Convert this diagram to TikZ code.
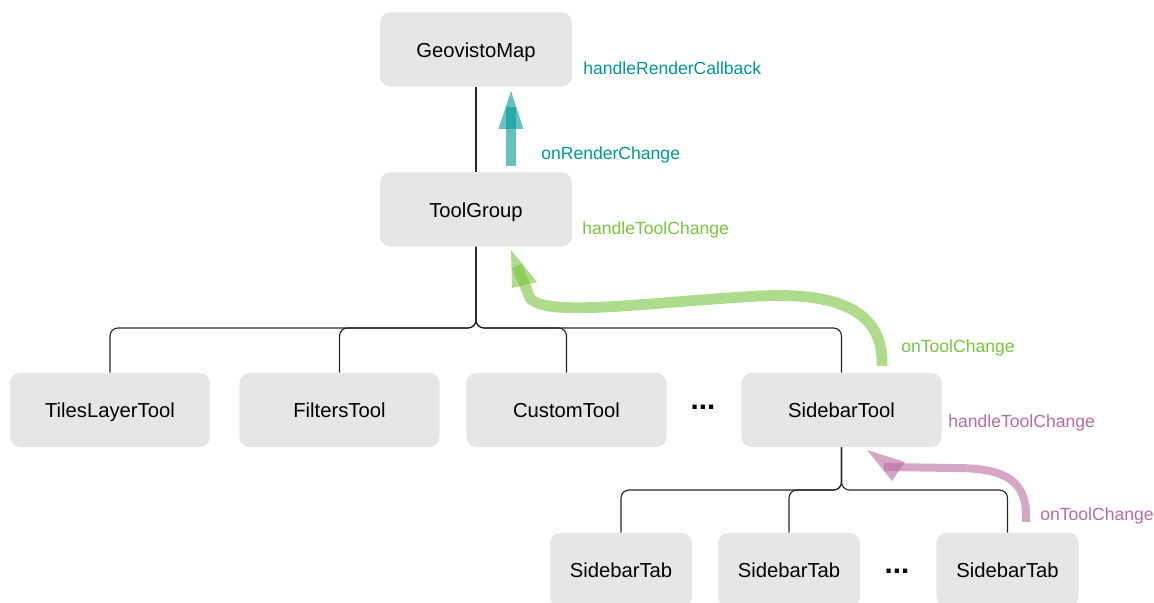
\documentclass[tikz,border=0pt]{standalone}
\usepackage{fontspec}
\setmainfont{Liberation Sans}
\definecolor{boxgray}{HTML}{E6E6E6}
\definecolor{rendercol}{RGB}{0,153,148}
\definecolor{toolcol}{RGB}{120,197,63}
\definecolor{tabcol}{RGB}{185,107,160}
\begin{document}
\begin{tikzpicture}[x=0.025cm,y=-0.025cm,
        comp/.style={fill=boxgray,rounded corners=0.25cm,inner sep=0pt,minimum height=1.85cm,
            text height=1.12em,text depth=0.04em,font=\fontsize{14.4}{17}\selectfont},
        toolbox/.style={comp,minimum width=5cm},
        tabbox/.style={comp,minimum width=3.55cm},
        tree/.style={draw=black!85,line width=0.8pt,rounded corners=0.2cm},
        flow/.style={opacity=0.6},
        lbl/.style={anchor=west,inner sep=0pt,text height=1em,text depth=0.02em,font=\fontsize{12.5}{15}\selectfont},
        dots/.style={anchor=base,inner sep=0pt,font=\fontsize{21}{24}\selectfont\bfseries}]
        \useasboundingbox (0,0) rectangle (1154,603);
        % boxes
        \node[comp,minimum width=4.8cm] (map) at (476,49.5) {GeovistoMap};
        \node[comp,minimum width=4.8cm] (group) at (476,209.5) {ToolGroup};
        \node[toolbox] (tiles) at (110,410) {TilesLayerTool};
        \node[toolbox] (filters) at (339.5,410) {FiltersTool};
        \node[toolbox] (custom) at (566.5,410) {CustomTool};
        \node[toolbox] (sidebar) at (841.5,410) {SidebarTool};
        \node[tabbox] (tabA) at (621,570) {SidebarTab};
        \node[tabbox] (tabB) at (789,570) {SidebarTab};
        \node[tabbox] (tabC) at (1007.5,570) {SidebarTab};
        \node[dots] (moreTools) at (703,409.5) {...};
        \node[dots] (moreTabs) at (897,573.5) {...};
        % tree lines
        \coordinate (busA) at (476,328);
        \coordinate (busB) at (841,490);
        \draw[tree] (map.south) -- (group.north);
        \foreach \n in {tiles,filters,custom,sidebar}
            \draw[tree] (group.south) |- (busA -| \n.north) -- (\n.north);
        \foreach \n in {tabA,tabB,tabC}
            \draw[tree] (sidebar.south) |- (busB -| \n.north) -- (\n.north);
        % callbacks (shaft runs into the head)
        \coordinate (renderFrom) at (511,166);
        \coordinate (renderEnd) at (511,107);
        \coordinate (renderTip) at (511,91);
        \draw[flow,rendercol,line width=0.24cm] (renderFrom) -- (renderEnd);
        \fill[flow,rendercol] (renderTip) -- (498.5,129) -- (523.5,129) -- cycle;
        \coordinate (toolFrom) at (882,366);
        \coordinate (toolEnd) at (517,266);
        \coordinate (toolTip) at (511,250);
        \draw[flow,toolcol,line width=0.27cm] (toolFrom) .. controls (884,312) and (840,292) .. (760,296)
            .. controls (650,302) and (545,318) .. (530,298) -- (toolEnd);
        \fill[flow,toolcol] (toolTip) -- (512,288) -- (537,282) -- cycle;
        \coordinate (tabFrom) at (1026,522);
        \coordinate (tabEnd) at (884,467);
        \coordinate (tabTip) at (867,450);
        \draw[flow,tabcol,line width=0.2cm] (tabFrom) .. controls (1028,482) and (1008,468) .. (955,468)
            -- (tabEnd);
        \fill[flow,tabcol] (tabTip) -- (905,462) -- (892,481) -- cycle;
        % labels
        \node[lbl,rendercol] (renderCb) at (583,68) {handleRenderCallback};
        \node[lbl,rendercol] (renderChg) at (541,153) {onRenderChange};
        \node[lbl,toolcol] (groupCb) at (582,228) {handleToolChange};
        \node[lbl,toolcol] (toolChg) at (901,346) {onToolChange};
        \node[lbl,tabcol] (sidebarCb) at (948,421) {handleToolChange};
        \node[lbl,tabcol] (tabChg) at (1040,514) {onToolChange};
    \end{tikzpicture}
\end{document}
